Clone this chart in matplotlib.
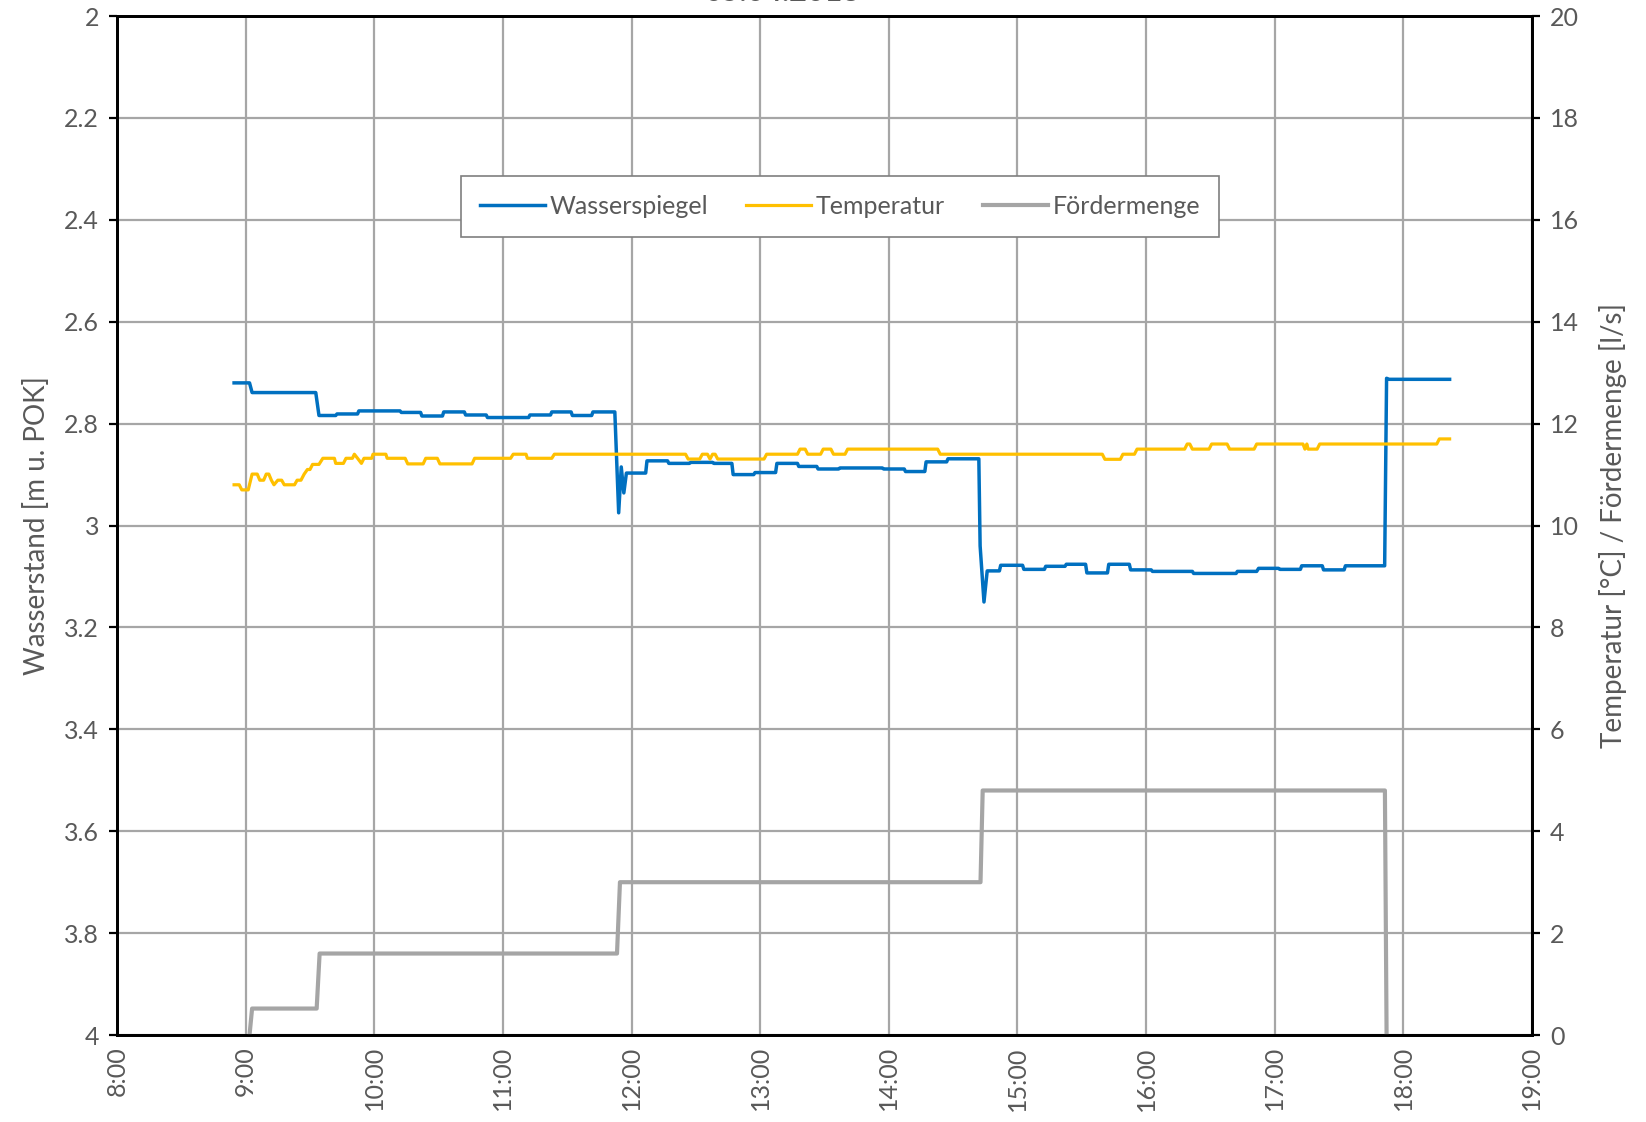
import numpy as np
import matplotlib.pyplot as plt
from matplotlib.ticker import FuncFormatter, MultipleLocator

# Figure formatting
font_family = ['Lato', 'DejaVu Sans']
text_color = '#595959'
grid_color = '#A6A6A6'
plt.rcParams['font.family'] = font_family

# Wasserspiegel (time in hours, level in m u. POK)
level_time = [8.91, 9.03, 9.05, 9.545, 9.57, 9.70, 9.71, 9.87, 9.88, 10.20, 10.21, 10.36,
              10.37, 10.53, 10.54, 10.70, 10.71, 10.87, 10.88, 11.20, 11.21, 11.37, 11.38,
              11.53, 11.54, 11.69, 11.70, 11.87, 11.90, 11.92, 11.94, 11.96, 12.11, 12.12,
              12.28, 12.29, 12.45, 12.46, 12.63, 12.64, 12.78, 12.79, 12.95, 12.96, 13.12,
              13.13, 13.29, 13.30, 13.44, 13.45, 13.61, 13.62, 13.95, 13.96, 14.12, 14.13,
              14.28, 14.29, 14.45, 14.46, 14.70, 14.71, 14.74, 14.765, 14.86, 14.87, 15.04,
              15.05, 15.21, 15.22, 15.37, 15.38, 15.53, 15.54, 15.70, 15.71, 15.87, 15.88,
              16.04, 16.05, 16.36, 16.37, 16.70, 16.71, 16.86, 16.875, 17.03, 17.04, 17.20,
              17.21, 17.37, 17.38, 17.54, 17.55, 17.855, 17.87, 17.89, 18.36]
level_value = [2.720, 2.720, 2.739, 2.739, 2.784, 2.784, 2.781, 2.781, 2.775, 2.775, 2.778, 2.778,
               2.785, 2.785, 2.777, 2.777, 2.783, 2.783, 2.788, 2.788, 2.783, 2.783, 2.777,
               2.777, 2.784, 2.784, 2.777, 2.777, 2.975, 2.885, 2.936, 2.897, 2.897, 2.873,
               2.873, 2.878, 2.878, 2.876, 2.876, 2.878, 2.878, 2.900, 2.900, 2.896, 2.896,
               2.878, 2.878, 2.884, 2.884, 2.889, 2.889, 2.887, 2.887, 2.889, 2.889, 2.894,
               2.894, 2.875, 2.875, 2.869, 2.869, 3.040, 3.150, 3.089, 3.089, 3.078, 3.078,
               3.086, 3.086, 3.080, 3.080, 3.076, 3.076, 3.093, 3.093, 3.076, 3.076, 3.087,
               3.087, 3.090, 3.090, 3.094, 3.094, 3.090, 3.090, 3.084, 3.084, 3.086, 3.086,
               3.079, 3.079, 3.087, 3.087, 3.079, 3.079, 2.711, 2.713, 2.713]

# Temperatur (°C)
temp_time = [8.91, 8.95, 8.97, 9.02, 9.05, 9.09, 9.11, 9.14, 9.16, 9.18, 9.20, 9.22, 9.25,
             9.28, 9.30, 9.38, 9.40, 9.43, 9.455, 9.48, 9.50, 9.52, 9.57, 9.60, 9.69, 9.70,
             9.76, 9.78, 9.83, 9.845, 9.87, 9.90, 9.92, 9.98, 9.99, 10.09, 10.10, 10.24,
             10.26, 10.38, 10.40, 10.49, 10.51, 10.76, 10.78, 11.06, 11.08, 11.18, 11.19,
             11.38, 11.40, 12.42, 12.44, 12.53, 12.55, 12.59, 12.61, 12.63, 12.65, 12.67,
             13.03, 13.05, 13.29, 13.31, 13.35, 13.37, 13.47, 13.49, 13.55, 13.57, 13.66,
             13.68, 14.38, 14.40, 15.66, 15.68, 15.80, 15.82, 15.91, 15.93, 16.30, 16.32,
             16.34, 16.36, 16.49, 16.51, 16.63, 16.65, 16.84, 16.86, 17.22, 17.235, 17.25,
             17.26, 17.33, 17.35, 18.26, 18.28, 18.36]
temp_value = [10.80, 10.80, 10.70, 10.70, 11.01, 11.01, 10.89, 10.89, 11.01, 11.01, 10.89, 10.80,
              10.89, 10.89, 10.80, 10.80, 10.89, 10.89, 11.01, 11.10, 11.10, 11.20, 11.20,
              11.32, 11.32, 11.22, 11.22, 11.32, 11.32, 11.40, 11.32, 11.22, 11.32, 11.32,
              11.40, 11.40, 11.32, 11.32, 11.21, 11.21, 11.32, 11.32, 11.21, 11.21, 11.32,
              11.32, 11.40, 11.40, 11.32, 11.32, 11.40, 11.40, 11.305, 11.305, 11.40, 11.40,
              11.305, 11.40, 11.40, 11.305, 11.305, 11.40, 11.40, 11.50, 11.50, 11.40, 11.40,
              11.50, 11.50, 11.40, 11.40, 11.50, 11.50, 11.40, 11.40, 11.30, 11.30, 11.40,
              11.40, 11.50, 11.50, 11.60, 11.60, 11.50, 11.50, 11.60, 11.60, 11.50, 11.50,
              11.60, 11.60, 11.50, 11.60, 11.50, 11.50, 11.60, 11.60, 11.70, 11.70]

# Fördermenge (l/s)
flow_time = [9.03, 9.05, 9.552, 9.575, 11.887, 11.91, 14.713, 14.73, 17.857, 17.87]
flow_value = [0.0, 0.52, 0.52, 1.6, 1.6, 3.0, 3.0, 4.8, 4.8, 0.0]

hour_ticks = list(range(8, 20))
hour_labels = ['%d:00' % h for h in hour_ticks]

# Set up plot
fig = plt.figure(figsize=(16.46, 11.22), dpi=100)
ax = fig.add_axes([0.0711, 0.0775, 0.8596, 0.9082])
ax2 = ax.twinx()

line_level, = ax.plot(level_time, level_value, color='#0070C0', lw=2.5, label='Wasserspiegel')
line_temp, = ax2.plot(temp_time, temp_value, color='#FFC000', lw=2.3, label='Temperatur')
line_flow, = ax2.plot(flow_time, flow_value, color='#A5A5A5', lw=3.0, label='Fördermenge')

# Left axis (inverted)
ax.set_ylim(4, 2)
ax.yaxis.set_major_locator(MultipleLocator(0.2))
ax.yaxis.set_major_formatter(FuncFormatter(lambda v, p: '%g' % round(v, 2)))
ax.set_xlim(8, 19)
ax.set_xticks(hour_ticks)
ax.set_xticklabels(hour_labels, rotation=90)

# Right axis
ax2.set_ylim(0, 20)
ax2.yaxis.set_major_locator(MultipleLocator(2))

ax.grid(True, color=grid_color, lw=1.6)
ax.set_axisbelow(True)

for a in (ax, ax2):
    for s in a.spines.values():
        s.set_linewidth(2.0)
        s.set_color('black')
    a.tick_params(labelsize=18, colors=text_color, length=6, width=1.6, pad=7)
    a.tick_params(axis='both', color='black')
ax.tick_params(axis='x', length=0, pad=8)

ax.set_ylabel('Wasserstand [m u. POK]', fontsize=20, color=text_color, labelpad=10)
ax2.set_ylabel('Temperatur [°C] / Fördermenge [l/s]', fontsize=20, color=text_color,
               rotation=90, labelpad=14)

# Legend
legend = ax2.legend(handles=[line_level, line_temp, line_flow], loc='center',
                    bbox_to_anchor=(0.511, 0.813), ncol=3, fontsize=18, frameon=True,
                    fancybox=False, edgecolor='#7F7F7F', framealpha=1, handlelength=2.6,
                    columnspacing=1.5, borderpad=0.75, handletextpad=0.2)
legend.get_frame().set_linewidth(1.2)
for t in legend.get_texts():
    t.set_color(text_color)

# Title (cut off at the top edge)
fig.text(0.475, 1.007, '05.04.2013', ha='center', va='center', fontsize=22,
         color=text_color, fontweight='bold')

fig.savefig('out.png', dpi=100)
